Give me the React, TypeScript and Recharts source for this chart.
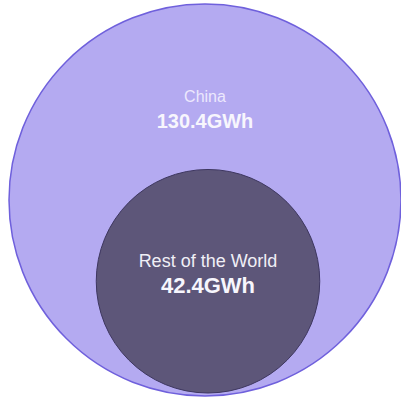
import React from "react";
import { PieChart, Pie, Cell } from "recharts";

const regions = ["China", "Rest of the World"];
const capacityGWh = [130.4, 42.4];
const valueLabels = ["130.4GWh", "42.4GWh"];

const fills = ["#b4aaf1", "#5d5679"];
const strokes = ["#6f60dc", "#3e3760"];
const nameColors = ["#ece8fd", "#f0eff6"];

const SIZE = 401;
const BIG_R = 196;
const CX = 205;
const CY = 200;

const maxVal = Math.max(...capacityGWh);
// area proportional circles, bottom aligned
const radii = capacityGWh.map((v) => BIG_R * Math.sqrt(v / maxVal));

function makeLabel(i: number) {
  return (props: any) => {
    const top = props.cy - props.outerRadius;
    return (
      <g style={{ fontFamily: '"Liberation Sans", Arial, sans-serif' }}>
        {/* outline drawn here so the full sector has no radius seam */}
        <circle cx={props.cx} cy={props.cy} r={props.outerRadius} fill="none" stroke={strokes[i]} strokeWidth={i === 0 ? 1.5 : 1} />
        <text x={props.cx} y={top + 98} textAnchor="middle" fontSize={i === 0 ? 16 : 18} fill={nameColors[i]}>
          {regions[i]}
        </text>
        <text x={props.cx} y={top + 124} textAnchor="middle" fontSize={i === 0 ? 20 : 22} fontWeight={700} fill="#f7f6fd">
          {valueLabels[i]}
        </text>
      </g>
    );
  };
}

export default function App() {
  return (
    <div style={{ position: "absolute", left: 0, top: 0, background: "#fff" }}>
      <PieChart width={SIZE} height={SIZE} margin={{ top: 0, right: 0, bottom: 0, left: 0 }}>
        {capacityGWh.map((v, i) => {
          const r = radii[i];
          const cx = i === 0 ? CX : CX + 3;
          const cy = i === 0 ? CY : CY + BIG_R - r - 3;
          return (
            <Pie
              key={regions[i]}
              data={[{ name: regions[i], value: v }]}
              dataKey="value"
              nameKey="name"
              cx={cx}
              cy={cy}
              innerRadius={0}
              outerRadius={r}
              startAngle={90}
              endAngle={-270}
              isAnimationActive={false}
              labelLine={false}
              label={makeLabel(i)}
            >
              <Cell fill={fills[i]} stroke="none" />
            </Pie>
          );
        })}
      </PieChart>
    </div>
  );
}
